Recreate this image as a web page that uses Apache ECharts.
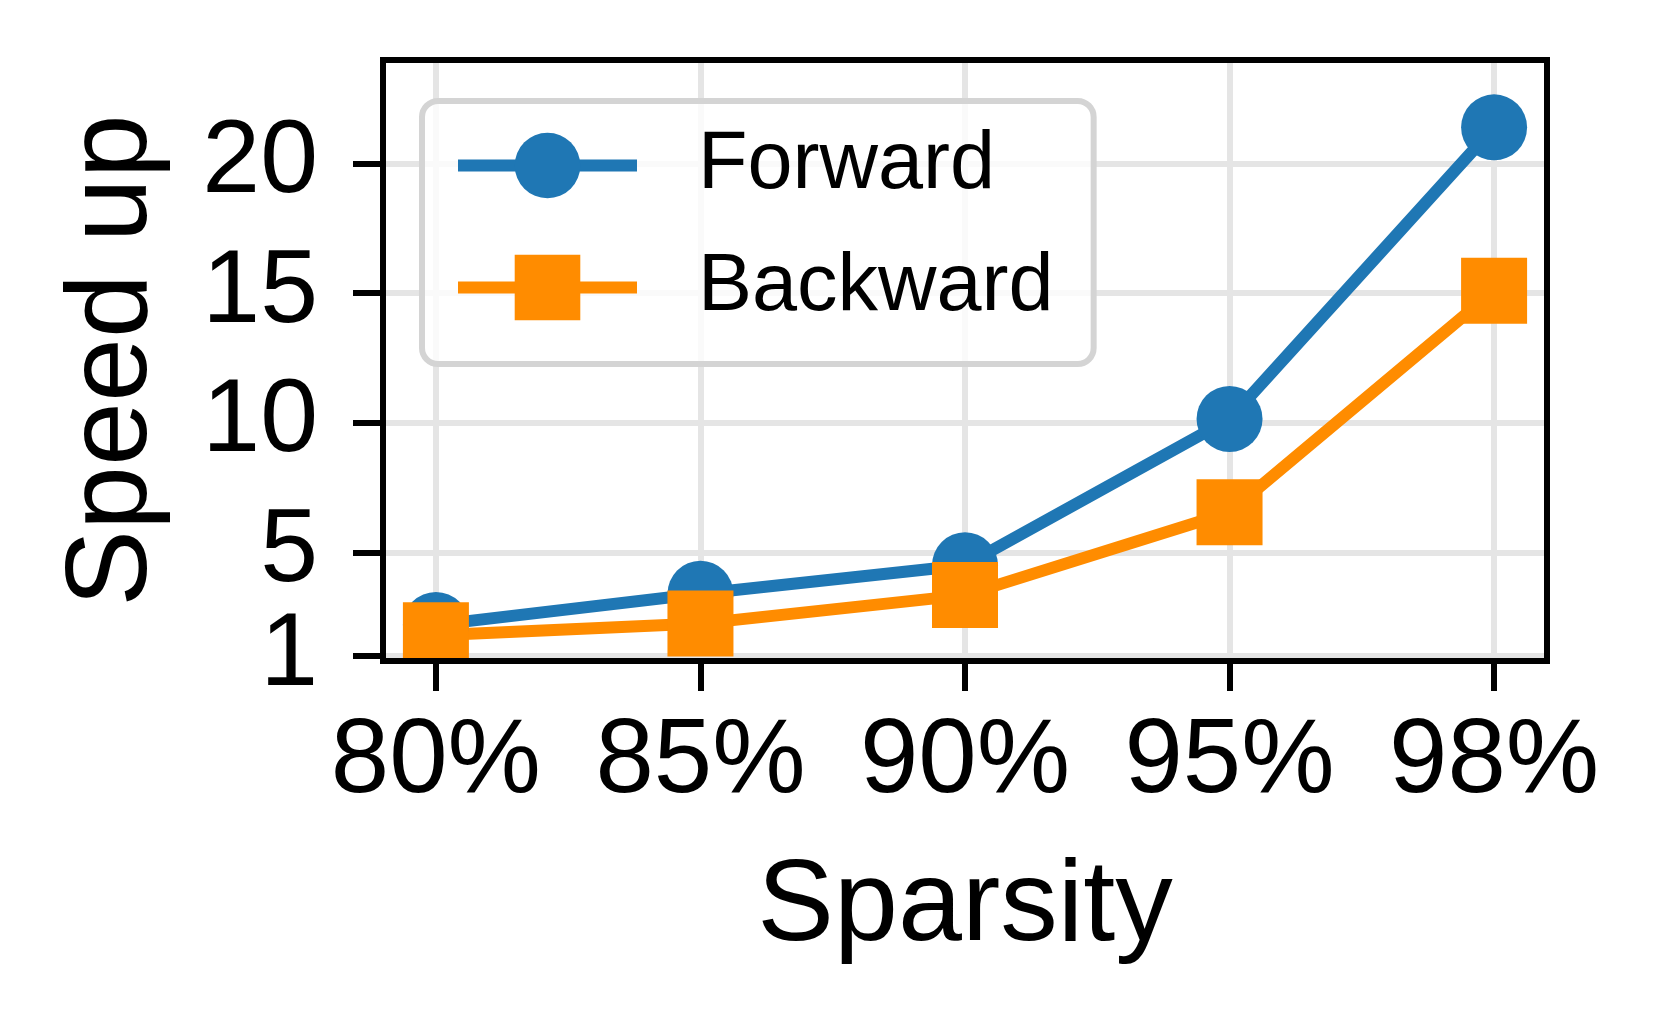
<!DOCTYPE html>
<html>
<head>
<meta charset="utf-8">
<script src="https://cdn.jsdelivr.net/npm/echarts@6/dist/echarts.min.js"></script>
<style>
  html, body { margin: 0; padding: 0; background: #fff; }
  #chart { width: 1663px; height: 1025px; }
</style>
</head>
<body>
<div id="chart"></div>
<script>
// data
const sparsity = ['80%', '85%', '90%', '95%', '98%']
const forward = [2.2, 3.4, 4.5, 10.15, 21.4]
const backward = [1.8, 2.25, 3.35, 6.55, 15.1]
const yTicks = [5, 10, 15, 20]
const yTickLow = [1] // own axis so it isn't dropped next to "5"
const xTicks = [0, 1, 2, 3, 4]

const font = '"Liberation Sans", Arial, Helvetica, sans-serif'
const blue = '#1f77b4'
const orange = '#ff8c00'
const gridGray = '#e5e5e5'

const yMin = 0.807
const yMax = 24.0

const chart = echarts.init(document.getElementById('chart'))

const yTickStyle = { show: true, length: 30, lineStyle: { color: '#000', width: 6 } }
const yLabelStyle = { margin: 65, fontSize: 104, color: '#000', fontFamily: font, hideOverlap: false }

chart.setOption({
  animation: false,
  backgroundColor: '#fff',
  grid: {
    left: 383, top: 60, width: 1164, height: 601,
    show: true, borderColor: '#000', borderWidth: 6,
    backgroundColor: 'transparent',
    z: 6,
    containLabel: false,
    outerBoundsMode: 'none'
  },
  legend: {
    orient: 'vertical',
    left: 422, top: 101,
    itemWidth: 179, itemHeight: 82, itemGap: 41,
    padding: [24, 40, 36, 30],
    backgroundColor: 'rgba(255,255,255,0.8)',
    borderColor: '#d4d4d4', borderWidth: 6, borderRadius: 16,
    lineStyle: { width: 12 },
    textStyle: { fontSize: 81, color: '#000', fontFamily: font, padding: [10, 0, 0, 56] },
    data: ['Forward', 'Backward']
  },
  xAxis: [
    { // grid lines only
      type: 'value', position: 'top', min: -0.2, max: 4.2, z: 0,
      axisLine: { show: false, onZero: false },
      axisTick: { show: false, customValues: xTicks },
      axisLabel: { show: false, customValues: xTicks },
      splitLine: { show: true, lineStyle: { color: gridGray, width: 6 } }
    },
    { // spine, ticks, labels above the markers
      type: 'value', position: 'bottom', min: -0.2, max: 4.2, z: 5,
      axisLine: { show: true, onZero: false, lineStyle: { color: '#000', width: 6 } },
      axisTick: { show: true, customValues: xTicks, length: 30, lineStyle: { color: '#000', width: 6 } },
      axisLabel: {
        customValues: xTicks, margin: 50,
        formatter: v => sparsity[v],
        fontSize: 105, color: '#000', fontFamily: font
      },
      splitLine: { show: false },
      name: 'Sparsity', nameLocation: 'middle', nameGap: 190,
      nameTextStyle: { fontSize: 115, color: '#000', fontFamily: font }
    }
  ],
  yAxis: [
    {
      type: 'value', position: 'left', min: yMin, max: yMax,
      axisLine: { show: false, onZero: false },
      axisTick: Object.assign({ customValues: yTickLow.concat(yTicks) }, yTickStyle, { show: false }),
      axisLabel: Object.assign({ customValues: yTicks }, yLabelStyle),
      splitLine: { show: true, lineStyle: { color: gridGray, width: 6 } },
      name: 'Speed up', nameLocation: 'middle', nameGap: 211,
      nameTextStyle: { fontSize: 115, color: '#000', fontFamily: font }
    },
    {
      type: 'value', position: 'left', min: yMin, max: yMax,
      axisLine: { show: false, onZero: false },
      axisTick: Object.assign({ customValues: yTickLow.concat(yTicks) }, yTickStyle),
      axisLabel: Object.assign({ customValues: yTickLow, showMinLabel: true }, yLabelStyle),
      splitLine: { show: false }
    }
  ],
  graphic: [
    // hides the part of the markers hanging below the bottom spine
    { type: 'rect', z: 4, shape: { x: 378, y: 664, width: 1175, height: 14 }, style: { fill: '#fff' } }
  ],
  series: [
    {
      name: 'Forward', type: 'line', xAxisIndex: 1, yAxisIndex: 0,
      data: forward.map((v, i) => [xTicks[i], v]),
      symbol: 'circle', symbolSize: 66,
      lineStyle: { color: blue, width: 12 },
      itemStyle: { color: blue },
      z: 2
    },
    {
      name: 'Backward', type: 'line', xAxisIndex: 1, yAxisIndex: 0,
      data: backward.map((v, i) => [xTicks[i], v]),
      symbol: 'rect', symbolSize: 66,
      lineStyle: { color: orange, width: 12 },
      itemStyle: { color: orange },
      z: 2
    }
  ]
})
</script>
</body>
</html>
